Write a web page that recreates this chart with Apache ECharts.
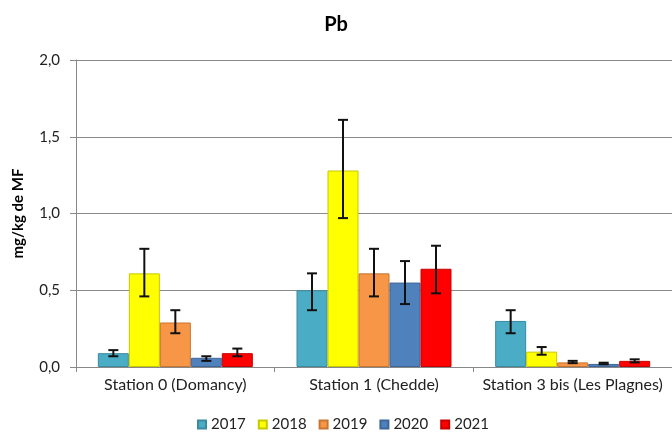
<!DOCTYPE html>
<html><head><meta charset="utf-8">
<script src="https://cdn.jsdelivr.net/npm/echarts@6/dist/echarts.min.js"></script>
<style>html,body{margin:0;padding:0;background:#fff}#c{width:672px;height:435px}</style>
</head><body><div id="c"></div>
<script>
const categories = ['Station 0 (Domancy)', 'Station 1 (Chedde)', 'Station 3 bis (Les Plagnes)'];
const years = ['2017', '2018', '2019', '2020', '2021'];
const v2017 = [0.09, 0.50, 0.30];
const v2018 = [0.61, 1.28, 0.10];
const v2019 = [0.29, 0.61, 0.03];
const v2020 = [0.06, 0.55, 0.02];
const v2021 = [0.09, 0.64, 0.04];
const lo2017 = [0.07, 0.37, 0.22], hi2017 = [0.11, 0.61, 0.37];
const lo2018 = [0.46, 0.97, 0.08], hi2018 = [0.77, 1.61, 0.13];
const lo2019 = [0.22, 0.46, 0.025], hi2019 = [0.37, 0.77, 0.04];
const lo2020 = [0.04, 0.41, 0.018], hi2020 = [0.07, 0.69, 0.028];
const lo2021 = [0.07, 0.48, 0.03], hi2021 = [0.12, 0.79, 0.05];
const yTicks = [0, 0.5, 1.0, 1.5, 2.0];

const values = [v2017, v2018, v2019, v2020, v2021];
const lows = [lo2017, lo2018, lo2019, lo2020, lo2021];
const highs = [hi2017, hi2018, hi2019, hi2020, hi2021];
const colors = ['#4BACC6', '#FFFF00', '#F79646', '#4F81BD', '#FF0000'];
const borders = ['#3a8aa0', '#c8c800', '#c87530', '#3d6799', '#c80000'];
const BW = 31;
const FONT = 'Lato';

const series = [];
years.forEach((y, i) => {
  series.push({
    name: y, type: 'bar', data: values[i], barWidth: BW, barGap: '0%',
    itemStyle: {
      color: colors[i],
      borderColor: borders[i], borderWidth: 1
    },
    z: 2
  });
});
years.forEach((y, i) => {
  series.push({
    type: 'custom', name: y + ' err',
    data: categories.map((c, k) => [k, lows[i][k], highs[i][k]]),
    renderItem: function (params, api) {
      const k = api.value(0);
      const p1 = api.coord([k, api.value(1)]);
      const p2 = api.coord([k, api.value(2)]);
      const x = p1[0] + (i - 2) * BW;
      const cw = 5;
      const st = {stroke: '#111', lineWidth: 2};
      return {type: 'group', children: [
        {type: 'line', shape: {x1: x, y1: p1[1], x2: x, y2: p2[1]}, style: st},
        {type: 'line', shape: {x1: x - cw, y1: p1[1], x2: x + cw, y2: p1[1]}, style: st},
        {type: 'line', shape: {x1: x - cw, y1: p2[1], x2: x + cw, y2: p2[1]}, style: st}
      ]};
    },
    z: 5, silent: true
  });
});

const chart = echarts.init(document.getElementById('c'));
chart.setOption({
  animation: false,
  title: {text: 'Pb', left: 'center', top: 10,
    textStyle: {fontFamily: FONT, fontSize: 20, fontWeight: 'bold', color: '#000'}},
  legend: {
    data: years, top: 412, left: 192, itemWidth: 8, itemHeight: 8, itemGap: 12,
    icon: 'rect',
    textStyle: {fontFamily: FONT, fontSize: 15, color: '#222'}
  },
  grid: {left: 76, top: 60, width: 600, height: 307},
  xAxis: {
    type: 'category', data: categories,
    axisLine: {lineStyle: {color: '#888'}},
    axisTick: {show: true, length: 5, lineStyle: {color: '#888'}},
    axisLabel: {fontFamily: FONT, fontSize: 16, color: '#222', margin: 10, interval: 0}
  },
  yAxis: {
    type: 'value', min: 0, max: 2, interval: 0.5,
    name: 'mg/kg de MF', nameLocation: 'middle', nameGap: 50, nameRotate: 90,
    nameTextStyle: {fontFamily: FONT, fontSize: 15, fontWeight: 'bold', color: '#000'},
    axisLine: {show: true, lineStyle: {color: '#888'}},
    axisTick: {show: true, length: 6, lineStyle: {color: '#888'}},
    splitLine: {lineStyle: {color: '#8a8a8a', width: 1}},
    axisLabel: {fontFamily: FONT, fontSize: 15, color: '#222', margin: 16,
      formatter: v => yTicks.includes(v) ? v.toFixed(1).replace('.', ',') : ''}
  },
  series: series
});
</script></body></html>
